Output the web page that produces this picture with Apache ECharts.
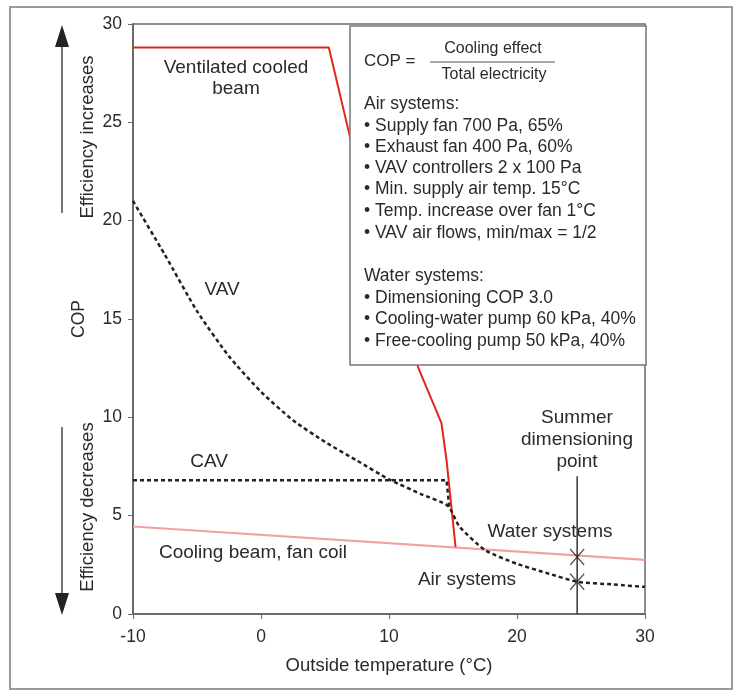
<!DOCTYPE html>
<html>
<head>
	<meta charset="utf-8">
	<title>COP</title>
	<style>
		html, body { margin: 0; padding: 0; background: #fff; }
		#chart { width: 735px; height: 692px; }
	</style>
</head>
<body>
	<div id="chart"></div>
	<script src="https://cdn.jsdelivr.net/npm/echarts@6/dist/echarts.min.js"></script>
	<script>
	// 数据：横轴为室外温度，纵轴为COP
	var xTicks = [-10, 0, 10, 20, 30];
	var yTicks = [0, 5, 10, 15, 20, 25, 30];

	// Ventilated cooled beam (红线)
	var beamTemp = [-10, 5.3, 6.9, 12.3, 14.1, 14.5, 15.2];
	var beamCop = [28.8, 28.8, 24.4, 12.5, 9.7, 7.8, 3.4];

	// Cooling beam, fan coil (浅红线)
	var coilTemp = [-10, 30];
	var coilCop = [4.45, 2.75];

	// VAV / Air systems (虚线)
	var vavTemp = [-10, -7.5, -5, -2.5, 0, 2.5, 5, 7.5, 10, 12.5, 14.6, 15.5, 17.5, 20, 22.5, 24.7, 27.5, 30];
	var vavCop = [21.0, 18.25, 15.4, 13.1, 11.3, 9.85, 8.75, 7.8, 6.85, 6.1, 5.5, 4.45, 3.25, 2.55, 2.05, 1.64, 1.5, 1.38];

	// CAV
	var cavTemp = [-10, 14.5, 14.7];
	var cavCop = [6.8, 6.8, 5.45];

	// Summer dimensioning point
	var summerTemp = 24.7;
	var summerTop = 7.0;
	var summerCop = [2.9, 1.64];

	var FONT = 'Liberation Sans';
	var TXT = '#2a2a2a';

	function pairs(xs, ys) {
		var out = [];
		for (var i = 0; i < xs.length; i++) {
			out.push([xs[i], ys[i]]);
		}
		return out;
	}

	var boxLines = [
		{ t: 'Air systems:', y: 104 },
		{ t: '• Supply fan 700 Pa, 65%', y: 126 },
		{ t: '• Exhaust fan 400 Pa, 60%', y: 147 },
		{ t: '• VAV controllers 2 x 100 Pa', y: 168 },
		{ t: '• Min. supply air temp. 15°C', y: 189 },
		{ t: '• Temp. increase over fan 1°C', y: 211 },
		{ t: '• VAV air flows, min/max = 1/2', y: 233 },
		{ t: 'Water systems:', y: 276 },
		{ t: '• Dimensioning COP 3.0', y: 298 },
		{ t: '• Cooling-water pump 60 kPa, 40%', y: 319 },
		{ t: '• Free-cooling pump 50 kPa, 40%', y: 341 }
	];

	function txt(x, y, text, opt) {
		opt = opt || {};
		return {
			type: 'text', x: x, y: y, z: 110, rotation: opt.rot || 0,
			style: {
				text: text, fill: TXT, font: (opt.size || 17) + 'px "' + FONT + '"',
				textAlign: opt.align || 'left', textVerticalAlign: 'middle'
			}
		};
	}

	var graphics = [
		// 外框
		{ type: 'rect', z: 1, shape: { x: 10, y: 7, width: 722, height: 682 },
			style: { fill: 'none', stroke: '#9a9a9a', lineWidth: 2 } },
		// 文本框（遮住红线）
		{ type: 'rect', z: 100, shape: { x: 350, y: 26, width: 296, height: 339 },
			style: { fill: '#fff', stroke: '#777', lineWidth: 1.5 } },
		txt(364, 61, 'COP =', { size: 17 }),
		txt(493, 49, 'Cooling effect', { align: 'center', size: 16 }),
		{ type: 'line', z: 110, shape: { x1: 430, y1: 62, x2: 555, y2: 62 },
			style: { stroke: '#555', lineWidth: 1.2 } },
		txt(494, 75, 'Total electricity', { align: 'center', size: 16 }),
		// 左侧箭头
		{ type: 'line', z: 5, shape: { x1: 62, y1: 213, x2: 62, y2: 40 },
			style: { stroke: '#444', lineWidth: 1.5 } },
		{ type: 'polygon', z: 5, shape: { points: [[62, 25], [55, 47], [69, 47]] },
			style: { fill: '#222' } },
		{ type: 'line', z: 5, shape: { x1: 62, y1: 427, x2: 62, y2: 600 },
			style: { stroke: '#444', lineWidth: 1.5 } },
		{ type: 'polygon', z: 5, shape: { points: [[62, 615], [55, 593], [69, 593]] },
			style: { fill: '#222' } },
		txt(88, 137, 'Efficiency increases', { align: 'center', size: 18.5, rot: Math.PI / 2 }),
		txt(88, 507, 'Efficiency decreases', { align: 'center', size: 18.5, rot: Math.PI / 2 }),
		// 图内标注
		txt(236, 68, 'Ventilated cooled', { align: 'center', size: 19 }),
		txt(236, 89, 'beam', { align: 'center', size: 19 }),
		txt(222, 290, 'VAV', { align: 'center', size: 19 }),
		txt(209, 462, 'CAV', { align: 'center', size: 19 }),
		txt(159, 553, 'Cooling beam, fan coil', { size: 19 }),
		txt(550, 532, 'Water systems', { align: 'center', size: 19 }),
		txt(467, 580, 'Air systems', { align: 'center', size: 19 }),
		txt(577, 418, 'Summer', { align: 'center', size: 19 }),
		txt(577, 440, 'dimensioning', { align: 'center', size: 19 }),
		txt(577, 462, 'point', { align: 'center', size: 19 })
	];
	for (var i = 0; i < boxLines.length; i++) {
		graphics.push(txt(364, boxLines[i].y, boxLines[i].t, { size: 17.5 }));
	}

	var myChart = echarts.init(document.getElementById('chart'));
	var dashed = { color: '#222', width: 2.5, type: [4, 3] };
	var option = {
		animation: false,
		backgroundColor: '#fff',
		grid: {
			left: 133, right: 90, top: 24, bottom: 78,
			show: true, borderColor: '#6a6a6a', borderWidth: 1.5
		},
		xAxis: {
			type: 'value', min: -10, max: 30, interval: 10,
			name: 'Outside temperature (°C)', nameLocation: 'middle', nameGap: 42,
			nameTextStyle: { fontFamily: FONT, fontSize: 18.5, color: TXT },
			axisLine: { lineStyle: { color: '#6a6a6a', width: 2 } },
			axisTick: { show: true, length: 5, lineStyle: { color: '#6a6a6a' } },
			axisLabel: { fontFamily: FONT, fontSize: 17.5, color: TXT, margin: 14 },
			splitLine: { show: false }
		},
		yAxis: {
			type: 'value', min: 0, max: 30, interval: 5,
			name: 'COP', nameLocation: 'middle', nameGap: 45, nameRotate: 90,
			nameTextStyle: { fontFamily: FONT, fontSize: 17.5, color: TXT },
			axisLine: { show: true, onZero: false, lineStyle: { color: '#6a6a6a', width: 2 } },
			axisTick: { show: true, length: 5, lineStyle: { color: '#6a6a6a' } },
			axisLabel: { fontFamily: FONT, fontSize: 17.5, color: TXT, margin: 11 },
			splitLine: { show: false }
		},
		series: [{
			name: 'Cooling beam, fan coil', type: 'line', symbol: 'none',
			data: pairs(coilTemp, coilCop),
			lineStyle: { color: '#f2a0a0', width: 2.2 }
		}, {
			name: 'Ventilated cooled beam', type: 'line', symbol: 'none',
			data: pairs(beamTemp, beamCop),
			lineStyle: { color: '#e3261c', width: 2 }
		}, {
			name: 'CAV', type: 'line', symbol: 'none',
			data: pairs(cavTemp, cavCop),
			lineStyle: dashed
		}, {
			name: 'VAV', type: 'line', symbol: 'none', smooth: 0.2,
			data: pairs(vavTemp, vavCop),
			lineStyle: dashed
		}, {
			name: 'Summer', type: 'line', symbol: 'none',
			data: [[summerTemp, 0], [summerTemp, summerTop]],
			lineStyle: { color: '#333', width: 1.5 }
		}, {
			name: 'Dimensioning', type: 'scatter',
			symbol: 'path://M0,0L10,12M10,0L0,12', symbolSize: [14, 16],
			data: [[summerTemp, summerCop[0]], [summerTemp, summerCop[1]]],
			itemStyle: { color: 'none', borderColor: '#222', borderWidth: 1.3 },
			z: 5
		}],
		graphic: graphics
	};
	myChart.setOption(option);
	</script>
</body>
</html>
